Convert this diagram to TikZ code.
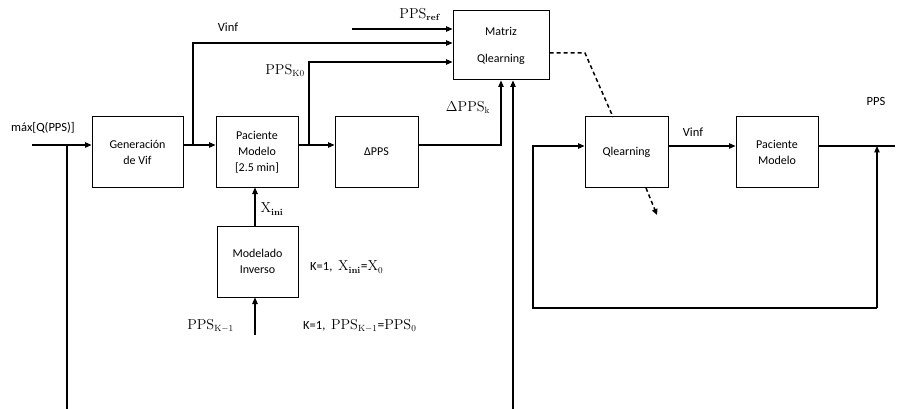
\documentclass[tikz,border=0pt]{standalone}
\usepackage[no-math]{fontspec}
\setmainfont{Carlito}
\usetikzlibrary{arrows.meta,calc}
\begin{document}
\begin{tikzpicture}[x=1pt,y=-1pt,
  blk/.style={draw,line width=1pt,inner sep=0pt,align=center,font=\fontsize{12}{16}\selectfont},
  lbl/.style={inner sep=0pt,font=\fontsize{12.5}{14}\selectfont},
  mlbl/.style={inner sep=0pt,font=\fontsize{13.5}{15}\selectfont},
  wire/.style={line width=1.1pt},
  arr/.style={wire,-{Triangle[length=6.5pt,width=5.5pt]}},
  dsh/.style={line width=1.5pt,dash pattern=on 4pt off 3pt}]
\useasboundingbox (0,0) rectangle (897,409);
% blocks
\node[blk,minimum width=91pt,minimum height=70pt] (gen) at (137.5,152) {Generación\\de Vif};
\node[blk,minimum width=82pt,minimum height=70pt] (pac) at (257,152) {Paciente\\Modelo\\{[}2.5 min{]}};
\node[blk,minimum width=83pt,minimum height=70pt] (dpps) at (376.5,152) {ΔPPS};
\node[blk,minimum width=96pt,minimum height=69pt] (mat) at (501,45.5) {Matriz\\[11pt]Qlearning};
\node[blk,minimum width=81pt,minimum height=71pt] (inv) at (257.5,261.5) {Modelado\\Inverso};
\node[blk,minimum width=83pt,minimum height=70pt] (ql) at (626.5,152) {Qlearning};
\node[blk,minimum width=82pt,minimum height=70pt] (pac2) at (777,152) {Paciente\\Modelo};
% coordinates
\coordinate (inp) at (32,145);
\coordinate (j1) at (67,145);
\coordinate (b1) at (67,409);
\coordinate (j2) at (193,145);
\coordinate (v1) at (193,43);
\coordinate (r0) at (352,29);
\coordinate (j3) at (309,145);
\coordinate (k1) at (309,62);
\coordinate (b2) at (513,409);
\coordinate (d1) at (585,53);
\coordinate (d2) at (613,117);
\coordinate (e1) at (646,188);
\coordinate (e2) at (657,215);
\coordinate (m2) at (533,146);
\coordinate (fbl) at (533,308);
\coordinate (fbr) at (877,308);
\coordinate (fbt) at (877,146);
\coordinate (out) at (895,146);
\coordinate (xb) at (255,335);
% connectors
\draw[arr] (inp) -- (gen.west|-inp);
\draw[wire] (j1) -- (b1);
\draw[arr] (gen.east|-inp) -- (pac.west|-inp);
\draw[arr] (j2) -- (v1) -- (mat.west|-v1);
\draw[arr] (r0) -- (mat.west|-r0);
\draw[arr] (j3) -- (k1) -- (mat.west|-k1);
\draw[arr] (pac.east|-inp) -- (dpps.west|-inp);
\draw[arr] (dpps.east|-inp) -| (mat.south);
\draw[arr] (b2) -- (mat.south-|b2);
\draw[dsh] (mat.east|-d1) -- (d1) -- (d2);
\draw[dsh,-{Triangle[length=6pt,width=5.5pt]}] (e1) -- (e2);
\draw[arr] (fbr) -- (fbt);
\draw[arr] (fbr) -- (fbl) -- (m2) -- (ql.west|-m2);
\draw[arr] (ql.east|-m2) -- (pac2.west|-m2);
\draw[wire] (pac2.east|-m2) -- (out);
\draw[arr] (xb) -- (inv.south-|xb);
\draw[arr] (inv.north-|xb) -- (pac.south-|xb);
% labels
\node[lbl] (l1) at (43,128) {máx[Q(PPS)]};
\node[lbl] (l2) at (228,27) {Vinf};
\node[mlbl] (l3) at (420,15) {$\mathrm{PPS}_{\mathbf{ref}}$};
\node[mlbl] (l4) at (285,71) {$\mathrm{PPS}_{\mathrm{K0}}$};
\node[mlbl] (l5) at (468,108) {$\Delta\mathrm{PPS}_{\mathrm{k}}$};
\node[mlbl] (l6) at (272,209) {$\mathrm{X}_{\mathbf{ini}}$};
\node[lbl,anchor=west] (l7) at (310,267) {K=1,\ \ {\fontsize{13.5}{15}\selectfont$\mathrm{X}_{\mathbf{ini}}$=$\mathrm{X}_0$}};
\node[mlbl,anchor=east] (l8) at (234,326) {$\mathrm{PPS}_{\mathrm{K}-1}$};
\node[lbl,anchor=west] (l9) at (303,326) {K=1,\ \ {\fontsize{13.5}{15}\selectfont$\mathrm{PPS}_{\mathrm{K}-1}$=$\mathrm{PPS}_0$}};
\node[lbl] (l10) at (693,132) {Vinf};
\node[lbl] (l11) at (876,101) {PPS};
\end{tikzpicture}
\end{document}
